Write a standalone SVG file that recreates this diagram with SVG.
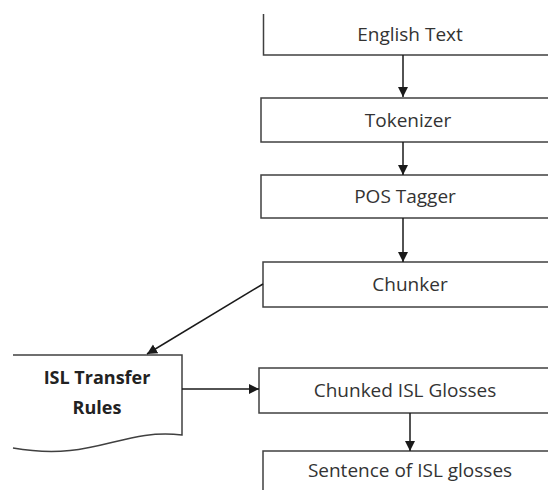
<svg xmlns="http://www.w3.org/2000/svg" width="548" height="490" viewBox="0 0 548 490">
<defs>
<marker id="ah" viewBox="0 0 10 10" refX="10" refY="5" markerWidth="10" markerHeight="11" markerUnits="userSpaceOnUse" orient="auto">
<path d="M0,0 L10,5 L0,10 z" fill="#1a1a1a"/>
</marker>
<style>
.box{fill:#fff;stroke:#404040;stroke-width:1.5}
.t{font-family:"Open Sans","Noto Sans",sans-serif;font-size:19px;fill:#333;text-anchor:middle}
.b{font-weight:bold;font-size:18px;fill:#222}
.c{fill:none;stroke:#1a1a1a;stroke-width:1.5}
</style>
</defs>
<rect width="548" height="490" fill="#fff"/>
<g id="english">
<path class="box" d="M263.5,14 V55 H560"/>
<text class="t" x="410" y="41">English Text</text>
</g>
<g id="tokenizer">
<rect class="box" x="261" y="98" width="300" height="44"/>
<text class="t" x="408" y="127">Tokenizer</text>
</g>
<g id="pos">
<rect class="box" x="261" y="175" width="300" height="43"/>
<text class="t" x="405" y="203">POS Tagger</text>
</g>
<g id="chunker">
<rect class="box" x="263" y="262" width="300" height="45"/>
<text class="t" x="410" y="291">Chunker</text>
</g>
<g id="rules">
<path class="box" d="M13,355 H182 V435 C120,428 95,462 13,448" />
<text class="t b" x="97" y="384">ISL Transfer</text>
<text class="t b" x="97" y="414">Rules</text>
</g>
<g id="chunked">
<rect class="box" x="259" y="368" width="300" height="45"/>
<text class="t" x="405" y="397">Chunked ISL Glosses</text>
</g>
<g id="sentence">
<rect class="box" x="263" y="451" width="300" height="60"/>
<text class="t" x="410" y="477">Sentence of ISL glosses</text>
</g>
<g id="connectors">
<line class="c" x1="403" y1="55" x2="403" y2="97" marker-end="url(#ah)"/>
<line class="c" x1="403" y1="142" x2="403" y2="175" marker-end="url(#ah)"/>
<line class="c" x1="403" y1="218" x2="403" y2="262" marker-end="url(#ah)"/>
<line class="c" x1="263" y1="284" x2="147" y2="354" marker-end="url(#ah)"/>
<line class="c" x1="182" y1="389" x2="259" y2="389" marker-end="url(#ah)"/>
<line class="c" x1="410" y1="413" x2="410" y2="451" marker-end="url(#ah)"/>
</g>
</svg>
